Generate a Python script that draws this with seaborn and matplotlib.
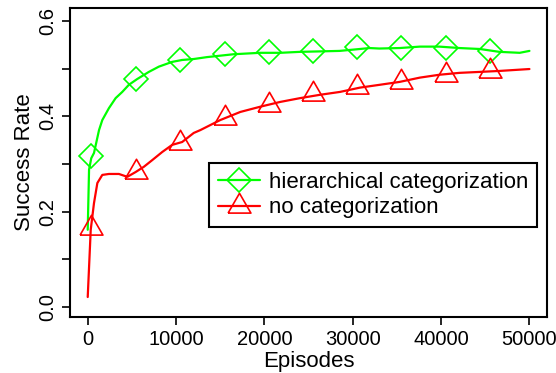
import pandas as pd
import seaborn as sns
import matplotlib.pyplot as plt
from matplotlib.lines import Line2D

# curve readings (episodes, success rate)
hier_ep = [0, 150, 400, 710, 1280, 1650, 2400, 3160, 3910, 4660, 5600, 6920, 8050,
           9560, 10690, 12000, 13500, 15000, 16500, 17500, 19500, 21800, 24000, 26300,
           28500, 30800, 31900, 33000, 35300, 37600, 39800, 42100, 44400, 46600, 48900, 50000]
hier_val = [0.162, 0.288, 0.312, 0.323, 0.371, 0.392, 0.417, 0.438, 0.451, 0.466, 0.478, 0.493, 0.504,
            0.514, 0.518, 0.520, 0.524, 0.527, 0.530, 0.531, 0.533, 0.533, 0.535, 0.536,
            0.537, 0.541, 0.543, 0.542, 0.543, 0.546, 0.546, 0.543, 0.541, 0.535, 0.533, 0.537]

none_ep = [0, 340, 710, 1090, 1650, 2400, 3530, 4480, 5420, 6350, 7300, 8430, 9560, 10690,
           12000, 12750, 15000, 17270, 19530, 21780, 24040, 26300, 28550, 30810, 33070,
           35300, 37600, 39800, 42100, 44400, 46600, 50000]
none_val = [0.021, 0.162, 0.218, 0.260, 0.277, 0.279, 0.279, 0.273, 0.283, 0.294, 0.308, 0.325, 0.340, 0.346,
            0.365, 0.371, 0.392, 0.409, 0.420, 0.430, 0.438, 0.445, 0.451, 0.460, 0.466,
            0.472, 0.481, 0.487, 0.491, 0.493, 0.495, 0.499]

# marker positions
mark_ep = [400, 5500, 10500, 15500, 20500, 25500, 30500, 35500, 40500, 45500]
hier_mark = [0.317, 0.478, 0.518, 0.531, 0.535, 0.537, 0.545, 0.543, 0.543, 0.537]
none_mark = [0.166, 0.283, 0.344, 0.397, 0.424, 0.447, 0.462, 0.472, 0.487, 0.495]

labels = ["hierarchical categorization", "no categorization"]
colors = ["#00ff00", "#ff0000"]
x_ticks = [0, 10000, 20000, 30000, 40000, 50000]
y_ticks = [0.0, 0.1, 0.2, 0.3, 0.4, 0.5, 0.6]
y_ticklabels = ["0.0", "", "0.2", "", "0.4", "", "0.6"]

sns.set_theme(style="ticks")
plt.rcParams["font.family"] = ["Liberation Sans", "DejaVu Sans"]
plt.rcParams["text.color"] = "black"
plt.rcParams["axes.labelcolor"] = "black"

# open triangle, centred on its centroid like R's pch 2
tri = [(-1, -0.577), (1, -0.577), (0, 1.155), (-1, -0.577)]
markers = ["D", tri]
msizes = [12.5, 19]

fig = plt.figure(figsize=(5.56, 3.73), dpi=100)
ax = fig.add_axes([0.126, 0.150, 0.858, 0.8286])

curves = [(hier_ep, hier_val, hier_mark), (none_ep, none_val, none_mark)]
for (ep, val, mk), col, m, ms in zip(curves, colors, markers, msizes):
    sns.lineplot(x=ep, y=val, ax=ax, color=col, linewidth=1.6, sort=False, estimator=None)
    ax.plot(mark_ep, mk, linestyle="none", marker=m, markersize=ms,
            markerfacecolor="none", markeredgecolor=col, markeredgewidth=1.2)

ax.set_xlim(-2000, 52000)
ax.set_ylim(-0.021, 0.627)
ax.set_xticks(x_ticks)
ax.set_xticklabels([str(v) for v in x_ticks])
ax.set_yticks(y_ticks)
ax.set_yticklabels(y_ticklabels, rotation=90, va="center")
ax.tick_params(axis="both", labelsize=14.5, length=6, width=1.2, color="black", labelcolor="black")
for s in ax.spines.values():
    s.set_visible(True)
    s.set_color("black")
    s.set_linewidth(1.5)
ax.set_xlabel("Episodes", fontsize=16, labelpad=1, color="black")
ax.set_ylabel("Success Rate", fontsize=16, labelpad=2, color="black")

handles = [Line2D([0], [0], color=c, linewidth=1.6, marker=m, markersize=ms,
                  markerfacecolor="none", markeredgecolor=c, markeredgewidth=1.2)
           for c, m, ms in zip(colors, markers, msizes)]
leg = ax.legend(handles, labels, loc="upper left", bbox_to_anchor=(0.291, 0.498),
                fontsize=16, frameon=True, fancybox=False, framealpha=1,
                borderpad=0.4, labelspacing=0.2, handlelength=1.9, handletextpad=0.4,
                borderaxespad=0)
leg.get_frame().set_edgecolor("black")
leg.get_frame().set_linewidth(1.5)

fig.savefig("out.png", dpi=100)
